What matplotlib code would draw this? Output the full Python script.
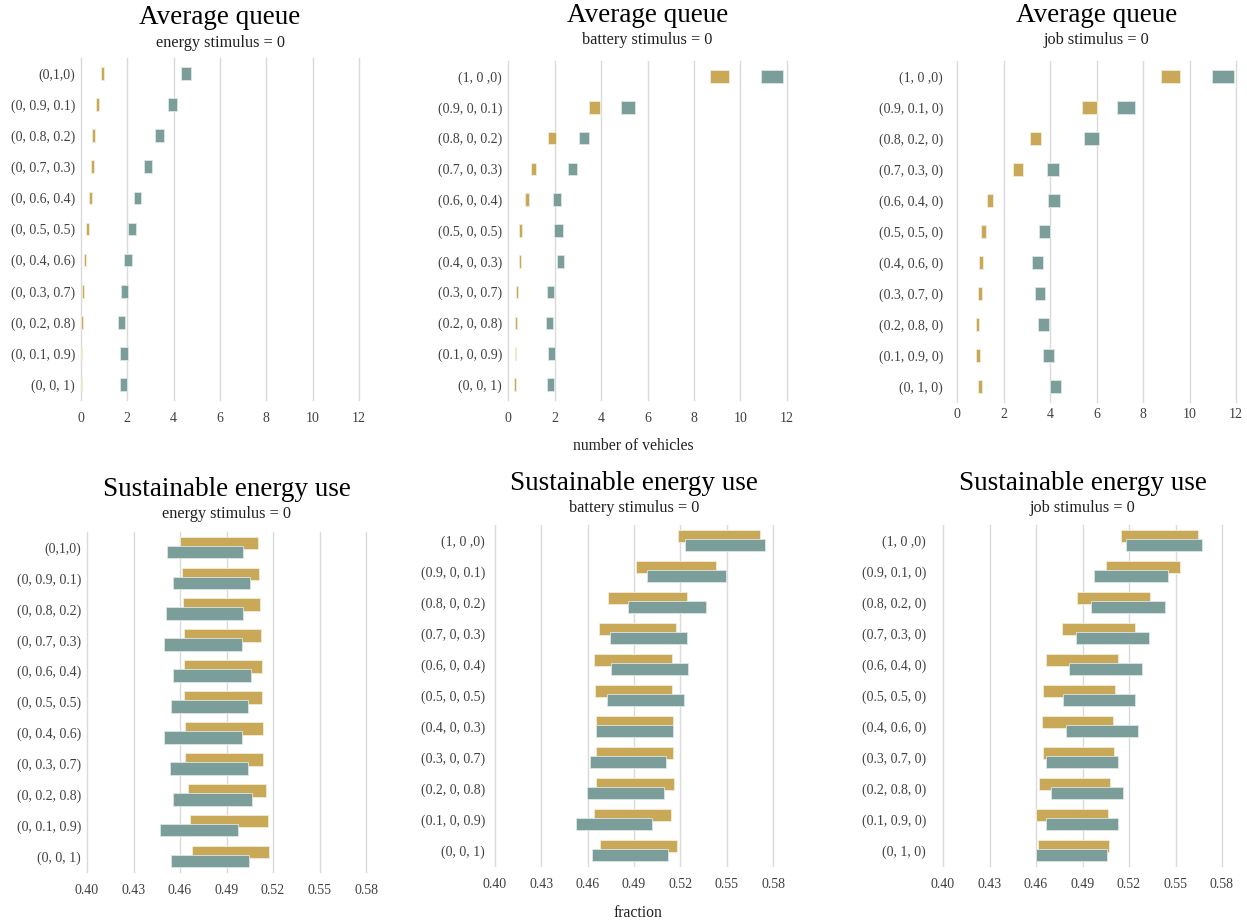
import matplotlib
matplotlib.use("Agg")
import matplotlib.pyplot as plt
import numpy as np

plt.rcParams['font.family'] = ['Liberation Serif', 'DejaVu Serif']

W, H = 1247, 924
gold = "#C9A957"
teal = "#7B9E9B"
grid_c = "#DADADA"
tick_c = "#404040"

# ---- data: Average queue (number of vehicles), floating bars start/end ----
labels_energy = ["(0,1,0)", "(0, 0.9, 0.1)", "(0, 0.8, 0.2)", "(0, 0.7, 0.3)", "(0, 0.6, 0.4)",
                 "(0, 0.5, 0.5)", "(0, 0.4, 0.6)", "(0, 0.3, 0.7)", "(0, 0.2, 0.8)",
                 "(0, 0.1, 0.9)", "(0, 0, 1)"]
labels_battery = ["(1, 0 ,0)", "(0.9, 0, 0.1)", "(0.8, 0, 0.2)", "(0.7, 0, 0.3)", "(0.6, 0, 0.4)",
                  "(0.5, 0, 0.5)", "(0.4, 0, 0.3)", "(0.3, 0, 0.7)", "(0.2, 0, 0.8)",
                  "(0.1, 0, 0.9)", "(0, 0, 1)"]
labels_job = ["(1, 0 ,0)", "(0.9, 0.1, 0)", "(0.8, 0.2, 0)", "(0.7, 0.3, 0)", "(0.6, 0.4, 0)",
              "(0.5, 0.5, 0)", "(0.4, 0.6, 0)", "(0.3, 0.7, 0)", "(0.2, 0.8, 0)",
              "(0.1, 0.9, 0)", "(0, 1, 0)"]

q_energy_gold_lo = [0.85, 0.63, 0.47, 0.44, 0.34, 0.22, 0.13, 0.04, 0.00, 0.00, 0.00]
q_energy_gold_hi = [0.99, 0.76, 0.60, 0.57, 0.46, 0.33, 0.23, 0.13, 0.07, 0.06, 0.03]
q_energy_teal_lo = [4.33, 3.77, 3.21, 2.71, 2.27, 2.05, 1.87, 1.72, 1.58, 1.69, 1.68]
q_energy_teal_hi = [4.75, 4.15, 3.57, 3.07, 2.60, 2.38, 2.18, 2.04, 1.89, 2.01, 1.99]

q_battery_gold_lo = [8.70, 3.47, 1.73, 1.00, 0.73, 0.49, 0.46, 0.34, 0.30, 0.29, 0.27]
q_battery_gold_hi = [9.51, 3.96, 2.05, 1.22, 0.90, 0.60, 0.56, 0.43, 0.37, 0.36, 0.34]
q_battery_teal_lo = [10.88, 4.85, 3.07, 2.57, 1.94, 1.99, 2.09, 1.66, 1.62, 1.72, 1.69]
q_battery_teal_hi = [11.83, 5.45, 3.50, 2.95, 2.28, 2.35, 2.42, 1.96, 1.92, 2.04, 1.99]

q_job_gold_lo = [8.76, 5.38, 3.14, 2.43, 1.31, 1.03, 0.93, 0.89, 0.80, 0.83, 0.92]
q_job_gold_hi = [9.59, 6.03, 3.62, 2.83, 1.56, 1.23, 1.12, 1.06, 0.96, 0.99, 1.08]
q_job_teal_lo = [10.97, 6.89, 5.47, 3.88, 3.92, 3.53, 3.24, 3.34, 3.49, 3.70, 4.02]
q_job_teal_hi = [11.91, 7.64, 6.11, 4.39, 4.45, 4.02, 3.70, 3.79, 3.95, 4.16, 4.49]

# ---- data: Sustainable energy use (fraction) ----
s_energy_gold_lo = [0.4599, 0.4612, 0.4619, 0.4623, 0.4627, 0.4627, 0.4631, 0.4634, 0.4653, 0.4664, 0.4677]
s_energy_gold_hi = [0.5103, 0.5112, 0.5119, 0.5125, 0.5129, 0.5129, 0.5134, 0.5136, 0.5155, 0.5166, 0.5177]
s_energy_teal_lo = [0.4513, 0.4554, 0.4509, 0.4498, 0.4554, 0.4541, 0.4498, 0.4534, 0.4558, 0.4472, 0.4541]
s_energy_teal_hi = [0.5009, 0.5050, 0.5009, 0.5000, 0.5056, 0.5041, 0.5002, 0.5039, 0.5062, 0.4976, 0.5047]

s_battery_gold_lo = [0.5183, 0.4912, 0.4733, 0.4672, 0.4644, 0.4649, 0.4657, 0.4653, 0.4657, 0.4644, 0.4679]
s_battery_gold_hi = [0.5716, 0.5429, 0.5241, 0.5175, 0.5144, 0.5149, 0.5155, 0.5151, 0.5159, 0.5142, 0.5179]
s_battery_teal_lo = [0.5233, 0.4987, 0.4862, 0.4744, 0.4752, 0.4728, 0.4657, 0.4614, 0.4597, 0.4522, 0.4627]
s_battery_teal_hi = [0.5750, 0.5494, 0.5364, 0.5244, 0.5248, 0.5224, 0.5153, 0.5106, 0.5093, 0.5017, 0.5123]

s_job_gold_lo = [0.5149, 0.5050, 0.4864, 0.4765, 0.4664, 0.4642, 0.4636, 0.4642, 0.4621, 0.4601, 0.4610]
s_job_gold_hi = [0.5642, 0.5532, 0.5338, 0.5237, 0.5129, 0.5108, 0.5099, 0.5106, 0.5080, 0.5063, 0.5069]
s_job_teal_lo = [0.5179, 0.4972, 0.4955, 0.4858, 0.4815, 0.4772, 0.4791, 0.4664, 0.4696, 0.4666, 0.4599]
s_job_teal_hi = [0.5668, 0.5450, 0.5431, 0.5330, 0.5284, 0.5237, 0.5256, 0.5129, 0.5159, 0.5129, 0.5058]

queue_ticks = [0, 2, 4, 6, 8, 10, 12]
frac_ticks = [0.40, 0.43, 0.46, 0.49, 0.52, 0.55, 0.58]

fig = plt.figure(figsize=(W / 100, H / 100), dpi=100)


def place(l, t, r, b):
    return [l / W, 1 - b / H, (r - l) / W, (b - t) / H]


def panel(box, labels, glo, ghi, tlo, thi, xlim, ticks, fmt, offset, xpad, ypad,
          title, sub, ty, sy):
    ax = fig.add_axes(place(*box))
    y = np.arange(len(labels))
    glo, ghi, tlo, thi = map(np.array, (glo, ghi, tlo, thi))
    ax.barh(y - offset, ghi - glo, left=glo, height=0.41, color=gold,
            edgecolor="#F3ECD9", linewidth=0.6, zorder=2)
    ax.barh(y + offset, thi - tlo, left=tlo, height=0.41, color=teal,
            edgecolor="#DCE6E5", linewidth=0.6, zorder=3)
    ax.set_xlim(*xlim)
    ax.set_ylim(len(labels) - 0.5, -0.5)
    ax.set_xticks(ticks)
    ax.set_xticklabels([fmt.format(t) for t in ticks])
    ax.set_yticks(y)
    ax.set_yticklabels(labels)
    ax.set_axisbelow(True)
    ax.grid(axis="x", color=grid_c, linewidth=1.0)
    for gl in ax.get_xgridlines():
        gl.set_clip_on(False)
    for s in ax.spines.values():
        s.set_visible(False)
    ax.tick_params(axis="both", length=0, labelsize=10, labelcolor=tick_c)
    ax.tick_params(axis="x", pad=xpad * 0.72)
    ax.tick_params(axis="y", pad=ypad * 0.72)
    cx = (box[0] + box[2]) / 2 / W
    fig.text(cx, 1 - ty / H, title, ha="center", va="center", fontsize=19.5, color="black")
    fig.text(cx, 1 - sy / H, sub, ha="center", va="center", fontsize=11.7, color="#202020")
    return ax


panel((81, 58, 359, 400), labels_energy, q_energy_gold_lo, q_energy_gold_hi,
      q_energy_teal_lo, q_energy_teal_hi, (0, 12), queue_ticks, "{:d}", 0.0, 12, 6,
      "Average queue", "energy stimulus = 0", 18, 43)
panel((508, 61, 787, 400), labels_battery, q_battery_gold_lo, q_battery_gold_hi,
      q_battery_teal_lo, q_battery_teal_hi, (0, 12), queue_ticks, "{:d}", 0.0, 12, 6,
      "Average queue", "battery stimulus = 0", 15, 40)
panel((957, 61, 1236, 402), labels_job, q_job_gold_lo, q_job_gold_hi,
      q_job_teal_lo, q_job_teal_hi, (0, 12), queue_ticks, "{:d}", 0.0, 6, 14,
      "Average queue", "job stimulus = 0", 15, 40)

panel((87, 532, 366, 872), labels_energy, s_energy_gold_lo, s_energy_gold_hi,
      s_energy_teal_lo, s_energy_teal_hi, (0.40, 0.58), frac_ticks, "{:.2f}", 0.145, 12, 6,
      "Sustainable energy use", "energy stimulus = 0", 490, 514)
panel((495, 525, 773, 866), labels_battery, s_battery_gold_lo, s_battery_gold_hi,
      s_battery_teal_lo, s_battery_teal_hi, (0.40, 0.58), frac_ticks, "{:.2f}", 0.145, 12, 10,
      "Sustainable energy use", "battery stimulus = 0", 483, 508)
panel((943, 525, 1222, 866), labels_job, s_job_gold_lo, s_job_gold_hi,
      s_job_teal_lo, s_job_teal_hi, (0.40, 0.58), frac_ticks, "{:.2f}", 0.145, 12, 17,
      "Sustainable energy use", "job stimulus = 0", 483, 508)

fig.text(633 / W, 1 - 446 / H, "number of vehicles", ha="center", va="center",
         fontsize=11.3, color="#202020")
fig.text(638 / W, 1 - 913 / H, "fraction", ha="center", va="center",
         fontsize=11.3, color="#202020")

fig.savefig("out.png", dpi=100)
